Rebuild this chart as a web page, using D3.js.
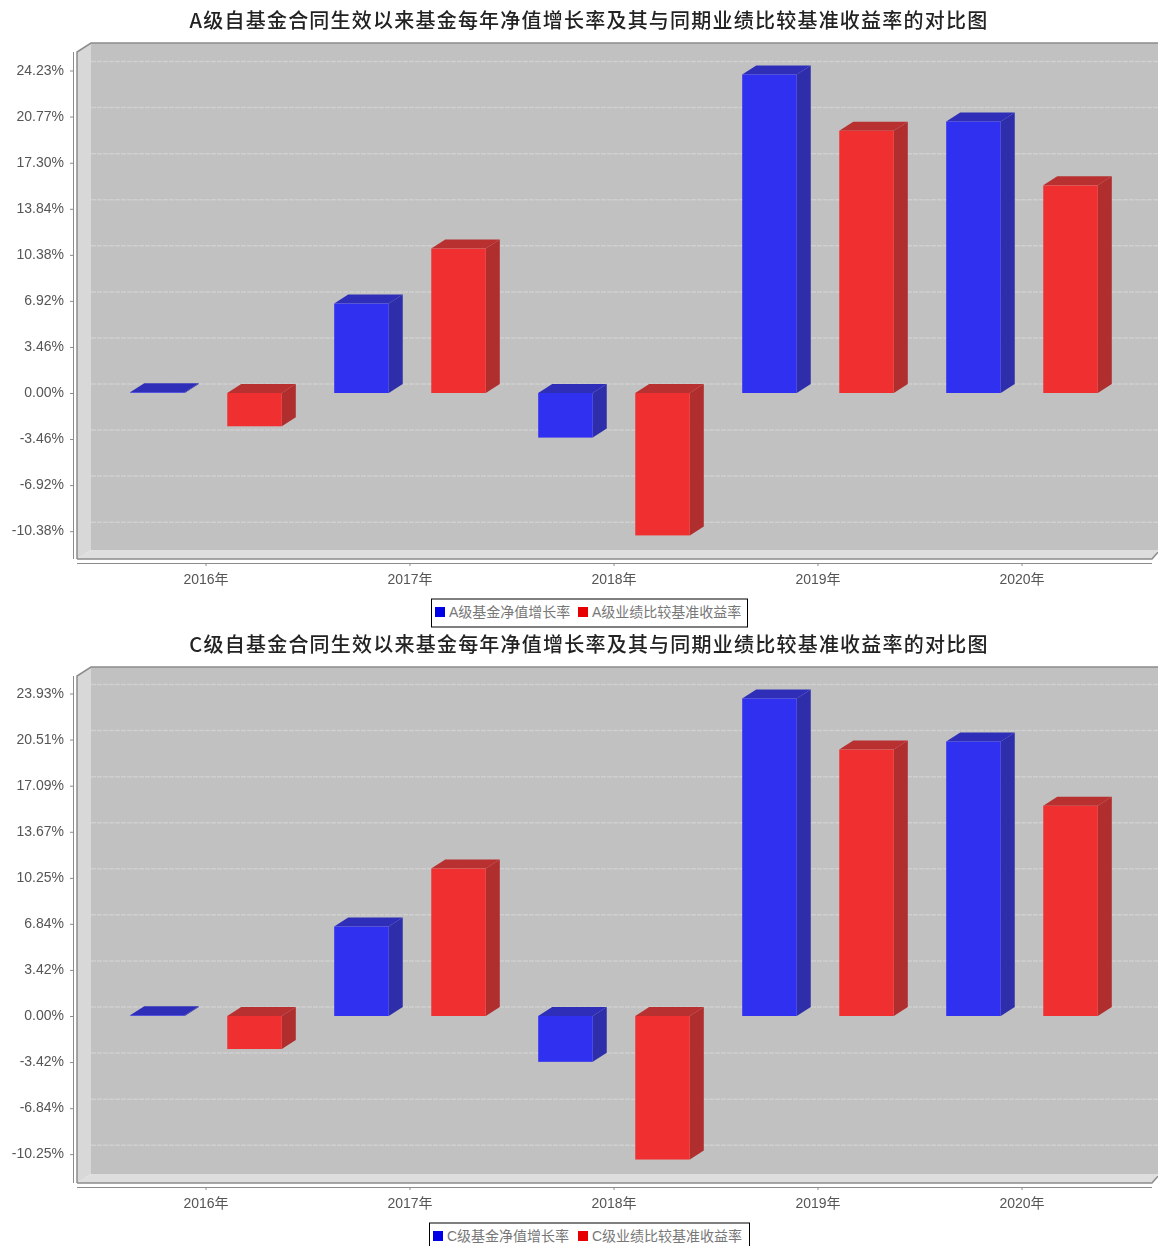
<!DOCTYPE html>
<html>
<head lang="en">
    <meta charset="UTF-8">
    <title>基金净值增长率对比图</title>
    <script src="https://cdn.jsdelivr.net/npm/d3@7"></script>
    <style>
        body{margin:0;background:#fff;}
        svg{display:block;filter:blur(0.4px);}
        text{font-family:"Liberation Sans","Noto Sans CJK SC",sans-serif;}
        .title{font-family:"Noto Sans CJK SC",sans-serif;font-size:20px;font-weight:500;fill:#222;letter-spacing:1.22px;}
        .tick text{font-size:14px;fill:#555;}
        .legend text{font-size:14px;fill:#777;}
    </style>
</head>
<body>
<script>
    var years=["2016年","2017年","2018年","2019年","2020年"];

    //A级
    var titleA="A级自基金合同生效以来基金每年净值增长率及其与同期业绩比较基准收益率的对比图";
    var legendA=["A级基金净值增长率","A级业绩比较基准收益率"];
    var ticksA=[-10.38,-6.92,-3.46,0,3.46,6.92,10.38,13.84,17.30,20.77,24.23];
    var navA=[0.05,6.72,-3.35,23.93,20.4];
    var benchA=[-2.5,10.85,-10.7,19.7,15.6];

    //C级
    var titleC="C级自基金合同生效以来基金每年净值增长率及其与同期业绩比较基准收益率的对比图";
    var legendC=["C级基金净值增长率","C级业绩比较基准收益率"];
    var ticksC=[-10.25,-6.84,-3.42,0,3.42,6.84,10.25,13.67,17.09,20.51,23.93];
    var navC=[0.05,6.64,-3.4,23.56,20.37];
    var benchC=[-2.45,10.94,-10.65,19.77,15.6];

    var colors=[
        {front:"#3030f0",top:"#2e2eb8",side:"#2e2eaa"},
        {front:"#f03030",top:"#b83030",side:"#b02e2e"}
    ];
    var swatch=["#0000e6","#e60000"];
    var depthX=14,depthY=9;

    var svg=d3.select("body").append("svg")
            .attr("width",1158)
            .attr("height",1246);

    function drawChart(top,zero,title,legend,ticks,nav,bench,box){
        var g=svg.append("g").attr("transform","translate(0,"+top+")");
        var left=77,right=1152,plotTop=52,plotBottom=559;

        var y=d3.scaleLinear()
                .domain([0,ticks[ticks.length-1]])
                .range([zero,zero-322.5]);
        var x0=d3.scaleBand().domain(years).range([104,1124]);
        var x1=d3.scaleBand().domain([0,1]).range([0,x0.bandwidth()])
                .paddingInner(0.438).paddingOuter(0.27);

        g.append("text").attr("class","title")
                .attr("x",589).attr("y",28)
                .style("text-anchor","middle")
                .text(title);

        //背景：后壁、左壁、底面
        g.append("rect")
                .attr("x",left+depthX).attr("y",plotTop-depthY)
                .attr("width",1158-left-depthX).attr("height",plotBottom-plotTop)
                .attr("fill","#c1c1c1");
        g.append("path")
                .attr("d",d3.line()([[left,plotTop],[left+depthX,plotTop-depthY],[left+depthX,plotBottom-depthY],[left,plotBottom]]))
                .attr("fill","#d8d8d8");
        g.append("path")
                .attr("d",d3.line()([[left,plotBottom],[left+depthX,plotBottom-depthY],[1158,plotBottom-depthY],[right,plotBottom]]))
                .attr("fill","#dedede");
        g.append("path")
                .attr("d",d3.line()([[left,plotBottom],[left,plotTop],[left+depthX,plotTop-depthY],[1158,plotTop-depthY]]))
                .attr("fill","none").attr("stroke","#8c8c8c").attr("stroke-width",1.5);
        g.append("path")
                .attr("d",d3.line()([[left,plotBottom],[right,plotBottom],[1158,plotBottom-depthY+2]]))
                .attr("fill","none").attr("stroke","#8c8c8c").attr("stroke-width",1.5);

        //网格线
        g.selectAll("line.grid")
                .data(ticks)
                .enter()
                .append("line")
                .attr("class","grid")
                .attr("x1",left+depthX).attr("x2",1158)
                .attr("y1",function(d){return y(d)-depthY;})
                .attr("y2",function(d){return y(d)-depthY;})
                .attr("stroke","#d0d0d0")
                .attr("stroke-width",1.5)
                .attr("stroke-dasharray","5,1");

        //柱子
        var series=[nav,bench];
        series.forEach(function(values,s){
            values.forEach(function(v,i){
                var xl=x0(years[i])+x1(s),xr=xl+x1.bandwidth();
                var yt=y(Math.max(v,0)),yb=y(Math.min(v,0));
                var bar=g.append("g");
                bar.append("path")
                        .attr("d",d3.line()([[xr,yt],[xr+depthX,yt-depthY],[xr+depthX,yb-depthY],[xr,yb]]))
                        .attr("fill",colors[s].side);
                bar.append("path")
                        .attr("d",d3.line()([[xl,yt],[xl+depthX,yt-depthY],[xr+depthX,yt-depthY],[xr,yt]]))
                        .attr("fill",colors[s].top);
                bar.append("rect")
                        .attr("x",xl).attr("y",yt)
                        .attr("width",xr-xl).attr("height",yb-yt)
                        .attr("fill",colors[s].front);
            });
        });

        //坐标轴
        var yAxis=d3.axisLeft(y)
                .tickValues(ticks)
                .tickSize(3)
                .tickPadding(6)
                .tickFormat(function(d){return d.toFixed(2)+"%";});
        var gy=g.append("g").attr("transform","translate(73,0)").call(yAxis);
        gy.select(".domain").attr("d","M0.5,"+plotTop+"V"+plotBottom).attr("stroke","#8c8c8c");
        gy.selectAll(".tick line").attr("stroke","#8c8c8c");
        gy.selectAll(".tick text").attr("dy","0.25em");

        var xAxis=d3.axisBottom(x0).tickSize(3).tickPadding(8);
        var gx=g.append("g").attr("transform","translate(0,563)").call(xAxis);
        gx.select(".domain").attr("d","M"+left+",0.5H"+right).attr("stroke","#8c8c8c");
        gx.selectAll(".tick line").attr("stroke","#8c8c8c");

        //图例
        var lg=g.append("g").attr("class","legend");
        lg.append("rect")
                .attr("x",box[0]+0.5).attr("y",599)
                .attr("width",box[1]-box[0]).attr("height",28)
                .attr("fill","#fff").attr("stroke","#000").attr("stroke-width",1);
        var itemX=[box[0]+4,box[0]+147+(box[0]==431?0:2)];
        legend.forEach(function(name,i){
            lg.append("rect")
                    .attr("x",itemX[i]).attr("y",607)
                    .attr("width",10).attr("height",10)
                    .attr("fill",swatch[i]);
            lg.append("text")
                    .attr("x",itemX[i]+14).attr("y",617)
                    .text(name);
        });
    }

    drawChart(0,393,titleA,legendA,ticksA,navA,benchA,[431,747]);
    drawChart(624,392,titleC,legendC,ticksC,navC,benchC,[429,749]);
</script>
</body>
</html>
